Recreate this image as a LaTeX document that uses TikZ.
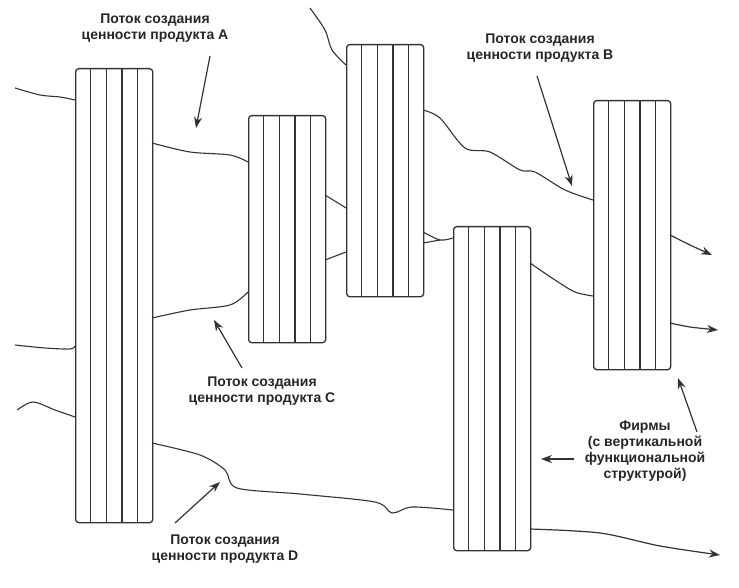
\documentclass[tikz,border=0pt]{standalone}
\usepackage{fontspec}
\setmainfont{Liberation Sans}
\usetikzlibrary{calc,arrows.meta}

\begin{document}
\begin{tikzpicture}[
		x=1pt, y=-1pt,
		line width=1.3pt, draw=black!80,
		firm/.style = {draw, rounded corners=3pt, minimum width=77pt, inner sep=0pt},
		flow/.style = {line width=1.1pt, black!80},
		pointer/.style = {-{Stealth[length=11pt,width=8pt]}, line width=1.2pt, black!80},
		lbl/.style = {align=center, font=\fontsize{14}{16}\selectfont\bfseries, text=black!85}
	]
	\useasboundingbox (0,0) rectangle (739,588);
	% Firms.
	\foreach \n/\l/\t/\h in {b1/75/68/454, b2/248/115/227, b3/346/44/252, b4/453/226/324, b5/593/100/269} {
		\node[firm, minimum height=\h pt, anchor=north west] (\n) at (\l,\t) {};
		\foreach \k in {1,...,4}
			\draw[line width=1.1pt] ($(\n.north west)!\k/5!(\n.north east)$) -- ($(\n.south west)!\k/5!(\n.south east)$);
	}
	% Flow A.
	\draw[flow] plot[smooth] coordinates {(15,88) (40,95) (60,97) (75,100)};
	\draw[flow] plot[smooth] coordinates {(152,143) (190,152) (230,155) (248,162)};
	\draw[flow] plot[smooth] coordinates {(325,195) (338,203) (346,208)};
	\draw[flow] plot[smooth] coordinates {(423,232) (440,240) (453,238)};
	\draw[flow] (423,243) -- (440,240);
	\draw[flow] plot[smooth] coordinates {(530,263) (555,280) (575,292) (593,296)};
	\draw[flow, pointer] plot[smooth] coordinates {(670,323) (690,327) (718,330)};
	% Flow B.
	\draw[flow] plot[smooth] coordinates {(310,8) (325,30) (332,50) (346,65)};
	\draw[flow] plot[smooth] coordinates {(423,110) (440,118) (465,148) (490,152) (520,170) (535,172) (565,190) (593,200)};
	\draw[flow, pointer] plot[smooth] coordinates {(670,235) (690,245) (712,255)};
	% Flow C.
	\draw[flow] plot[smooth] coordinates {(15,345) (45,348) (70,349) (75,346)};
	\draw[flow] plot[smooth] coordinates {(152,318) (190,310) (230,305) (248,292)};
	\draw[flow] (325,260) -- (346,252);
	% Flow D.
	\draw[flow] plot[smooth] coordinates {(17,410) (33,402) (55,410) (75,417)};
	\draw[flow] plot[smooth] coordinates {(152,443) (200,455) (225,470) (237,488) (300,494) (375,502) (392,513) (412,507) (453,510)};
	\draw[flow, pointer] plot[smooth] coordinates {(530,529) (600,533) (660,546) (720,555)};
	% Labels.
	\node[lbl] (la) at (155,28) {Поток создания\\ценности продукта A};
	\node[lbl] (lb) at (540,48) {Поток создания\\ценности продукта B};
	\node[lbl] (lc) at (262,391) {Поток создания\\ценности продукта C};
	\node[lbl] (ld) at (225,549) {Поток создания\\ценности продукта D};
	\node[lbl] (lf) at (645,451) {Фирмы\\(с вертикальной\\функциональной\\структурой)};
	\coordinate (pa) at (196,128);
	\coordinate (pb) at (572,186);
	\coordinate (pc) at (214,320);
	\coordinate (pd) at (220,482);
	\coordinate (pf) at (678,378);
	\coordinate (pg) at (541,459);
	\draw[pointer] (210,56) -- (pa);
	\draw[pointer] (537,76) -- (pb);
	\draw[pointer] (242,368) -- (pc);
	\draw[pointer] (175,523) -- (pd);
	\draw[pointer] (697,432) -- (pf);
	\draw[pointer] (574,459) -- (pg);
\end{tikzpicture}
\end{document}
